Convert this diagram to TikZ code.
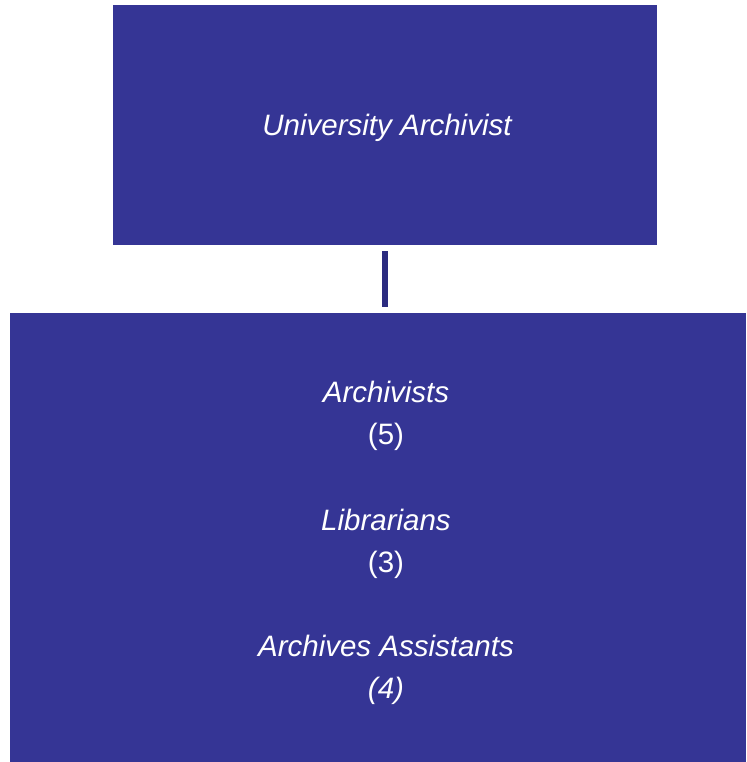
\documentclass[tikz,border=0pt]{standalone}
\usepackage{fontspec}
\setmainfont{Liberation Sans}
\definecolor{boxblue}{HTML}{353595}
\definecolor{linkblue}{HTML}{2B2B80}
\begin{document}
\begin{tikzpicture}[x=1pt,y=-1pt,
  orgbox/.style={fill=boxblue,draw=none,inner sep=0pt,outer sep=0pt},
  lbl/.style={anchor=base,text=white,inner sep=0pt,font=\fontsize{29.5}{35}\selectfont},
  link/.style={draw=linkblue,line width=6pt,shorten <=6pt,shorten >=6pt}]
\useasboundingbox (0,0) rectangle (746,762);
\node[orgbox,minimum width=544pt,minimum height=240pt] (top) at (385,125) {};
\node[orgbox,minimum width=736pt,minimum height=449pt] (bot) at (378,537.5) {};
\draw[link] (top.south) -- (top.south |- bot.north);
\node[lbl] (ua) at (387,136) {\itshape University Archivist};
\node[lbl] (arch) at (386,402) {\itshape Archivists};
\node[lbl] (arch5) at (386,444) {(5)};
\node[lbl] (lib) at (386,530) {\itshape Librarians};
\node[lbl] (lib3) at (386,572) {(3)};
\node[lbl] (asst) at (386,656) {\itshape Archives Assistants};
\node[lbl] (asst4) at (386,698) {\itshape (4)};
\end{tikzpicture}
\end{document}
